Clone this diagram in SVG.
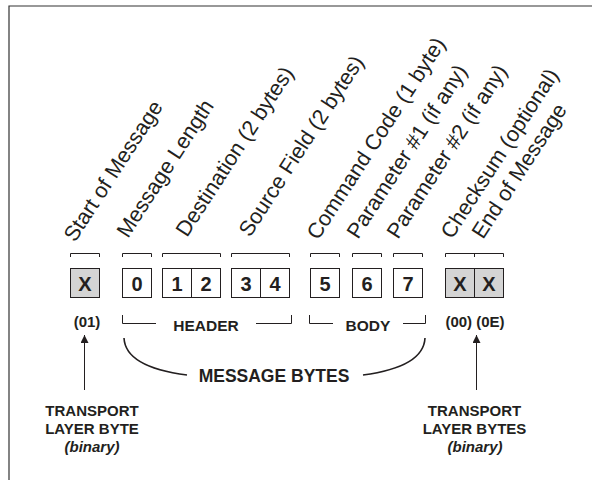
<svg xmlns="http://www.w3.org/2000/svg" width="592" height="480" viewBox="0 0 592 480">
<defs>
<style>
.lbl{font-family:"Liberation Sans",Arial,sans-serif;font-size:21.5px;fill:#231f20}
.b{font-family:"Liberation Sans",Arial,sans-serif;font-weight:bold;fill:#231f20}
.box{fill:#fff;stroke:#231f20;stroke-width:1}
.gbox{fill:#d4d4d4;stroke:#231f20;stroke-width:1}
.ln{fill:none;stroke:#231f20;stroke-width:1}
.dg{font-size:20px;text-anchor:middle}
</style>
<marker id="ah" markerWidth="8" markerHeight="8" refX="8" refY="4" orient="auto" markerUnits="userSpaceOnUse">
<path d="M0,0 L8,4 L0,8 Z" fill="#231f20"/>
</marker>
</defs>
<rect x="0" y="0" width="592" height="480" fill="#fff"/>
<path d="M9,480 V6 H592" fill="none" stroke="#333" stroke-width="1.2"/>

<g id="labels">
<text class="lbl" transform="translate(75,243) rotate(-57)">Start of Message</text>
<text class="lbl" transform="translate(128,239) rotate(-57)">Message Length</text>
<text class="lbl" transform="translate(187,238) rotate(-57)">Destination (2 bytes)</text>
<text class="lbl" transform="translate(250,238) rotate(-57)">Source Field (2 bytes)</text>
<text class="lbl" transform="translate(318,241) rotate(-57)">Command Code (1 byte)</text>
<text class="lbl" transform="translate(358,240) rotate(-57)">Parameter #1 (if any)</text>
<text class="lbl" transform="translate(398,240) rotate(-57)">Parameter #2 (if any)</text>
<text class="lbl" transform="translate(452,240) rotate(-57)">Checksum (optional)</text>
<text class="lbl" transform="translate(483,240) rotate(-57)">End of Message</text>
</g>

<g id="top-brackets">
<path class="ln" d="M70.5,257 V253.5 H99.5 V257"/>
<path class="ln" d="M122.5,257 V253.5 H151.5 V257"/>
<path class="ln" d="M162.5,257 V253.5 H220.5 V257"/>
<path class="ln" d="M231.5,257 V253.5 H289.5 V257"/>
<path class="ln" d="M310.5,257 V253.5 H339.5 V257"/>
<path class="ln" d="M352.5,257 V253.5 H381.5 V257"/>
<path class="ln" d="M393.5,257 V253.5 H422.5 V257"/>
<path class="ln" d="M445.5,257 V253.5 H503.5 V257 M474.5,253.5 V257"/>
</g>

<g id="byte-start">
<rect class="gbox" x="70.5" y="268.5" width="29" height="29"/>
<text class="b dg" x="85" y="290.5">X</text>
</g>
<g id="byte-0">
<rect class="box" x="122.5" y="268.5" width="29" height="29"/>
<text class="b dg" x="137" y="290.5">0</text>
</g>
<g id="byte-1-2">
<rect class="box" x="162.5" y="268.5" width="58" height="29"/>
<line class="ln" x1="191.5" y1="268.5" x2="191.5" y2="297.5"/>
<text class="b dg" x="177" y="290.5">1</text>
<text class="b dg" x="206" y="290.5">2</text>
</g>
<g id="byte-3-4">
<rect class="box" x="231.5" y="268.5" width="58" height="29"/>
<line class="ln" x1="260.5" y1="268.5" x2="260.5" y2="297.5"/>
<text class="b dg" x="246" y="290.5">3</text>
<text class="b dg" x="275" y="290.5">4</text>
</g>
<g id="byte-5">
<rect class="box" x="310.5" y="268.5" width="29" height="29"/>
<text class="b dg" x="325" y="290.5">5</text>
</g>
<g id="byte-6">
<rect class="box" x="352.5" y="268.5" width="29" height="29"/>
<text class="b dg" x="367" y="290.5">6</text>
</g>
<g id="byte-7">
<rect class="box" x="393.5" y="268.5" width="29" height="29"/>
<text class="b dg" x="408" y="290.5">7</text>
</g>
<g id="byte-end">
<rect class="gbox" x="445.5" y="268.5" width="58" height="29"/>
<line class="ln" x1="474.5" y1="268.5" x2="474.5" y2="297.5"/>
<text class="b dg" x="460" y="290.5">X</text>
<text class="b dg" x="489" y="290.5">X</text>
</g>

<g id="hex-labels">
<text class="b" x="87" y="327" font-size="15" text-anchor="middle">(01)</text>
<text class="b" x="475" y="327" font-size="15" text-anchor="middle">(00) (0E)</text>
</g>

<g id="header">
<path class="ln" d="M122.5,315 V323.5 H156 M256,323.5 H291.5 V315"/>
<text class="b" x="206" y="331" font-size="15.5" text-anchor="middle">HEADER</text>
</g>
<g id="body">
<path class="ln" d="M309.5,315 V323.5 H333 M403,323.5 H425.5 V315"/>
<text class="b" x="368" y="331" font-size="15.5" text-anchor="middle">BODY</text>
</g>

<g id="message-bytes">
<path d="M124,338 C125,358 148,370 187,375" fill="none" stroke="#231f20" stroke-width="1.6"/>
<path d="M425,338 C424,358 401,370 363,375" fill="none" stroke="#231f20" stroke-width="1.6"/>
<text class="b" x="274" y="382" font-size="17.5" text-anchor="middle">MESSAGE BYTES</text>
</g>

<g id="connectors">
<line class="ln" x1="84.5" y1="390" x2="84.5" y2="335" marker-end="url(#ah)"/>
<line class="ln" x1="476.5" y1="390" x2="476.5" y2="335" marker-end="url(#ah)"/>
</g>

<g id="transport-left">
<text class="b" x="92" y="416" font-size="15" text-anchor="middle">TRANSPORT</text>
<text class="b" x="92" y="434" font-size="15" text-anchor="middle">LAYER BYTE</text>
<text class="b" x="92" y="452" font-size="15" text-anchor="middle" font-style="italic">(binary)</text>
</g>
<g id="transport-right">
<text class="b" x="474.5" y="416" font-size="15" text-anchor="middle">TRANSPORT</text>
<text class="b" x="474.5" y="434" font-size="15" text-anchor="middle">LAYER BYTES</text>
<text class="b" x="475" y="452" font-size="15" text-anchor="middle" font-style="italic">(binary)</text>
</g>
</svg>
